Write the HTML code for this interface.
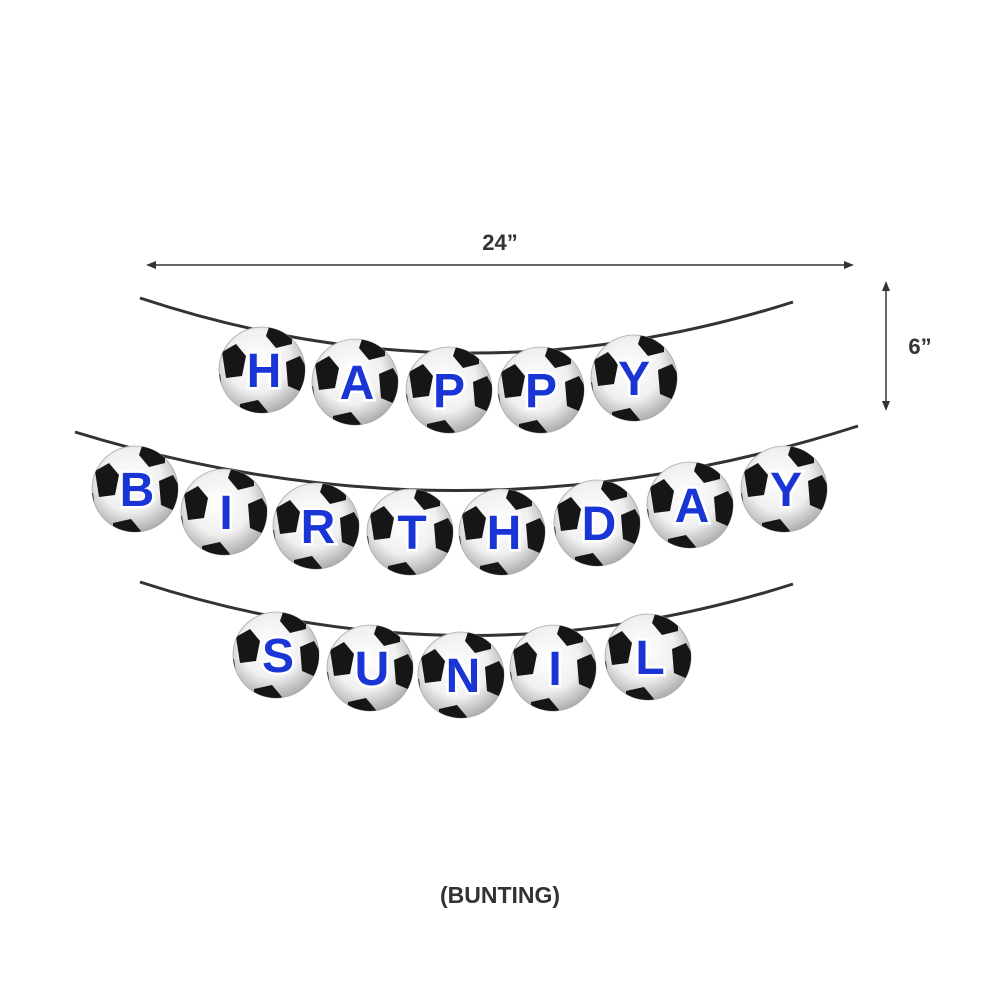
<!DOCTYPE html>
<html><head><style>
html,body{margin:0;padding:0;background:#fff;}
svg{display:block;}
.l{font-family:"Liberation Sans",sans-serif;font-weight:bold;font-size:48px;fill:#1a35d6;stroke:#ffffff;stroke-width:5;paint-order:stroke;text-anchor:middle;}
</style></head><body>
<svg width="1000" height="1000" viewBox="0 0 1000 1000">
<defs>
<radialGradient id="g" cx="45%" cy="40%" r="60%">
<stop offset="0" stop-color="#ffffff"/><stop offset="0.6" stop-color="#f0f0f0"/><stop offset="1" stop-color="#b0b0b0"/>
</radialGradient>
<clipPath id="c"><circle r="43"/></clipPath>
<g id="ball">
<circle r="43" fill="url(#g)" stroke="#aaa" stroke-width="0.8"/>
<g clip-path="url(#c)" fill="#161616">
<polygon points="-40,-18 -26,-26 -16,-14 -20,6 -36,8"/>
<polygon points="8,-46 30,-42 30,-26 14,-22 4,-34"/>
<polygon points="24,-8 38,-14 48,4 40,22 26,16"/>
<polygon points="-22,34 -4,30 6,42 -4,52 -22,48"/>
<polygon points="16,40 30,34 38,44 22,52"/>
<polygon points="-48,6 -42,4 -40,20 -48,24"/>
</g>
</g>
</defs>
<text x="500" y="250" font-family="Liberation Sans,sans-serif" font-weight="bold" font-size="22" fill="#333" text-anchor="middle">24”</text>
<line x1="152" y1="265" x2="848" y2="265" stroke="#333" stroke-width="1.5"/>
<polygon points="146,265 156,261 156,269" fill="#333"/>
<polygon points="854,265 844,261 844,269" fill="#333"/>
<line x1="886" y1="287" x2="886" y2="405" stroke="#333" stroke-width="1.5"/>
<polygon points="886,281 882,291 890,291" fill="#333"/>
<polygon points="886,411 882,401 890,401" fill="#333"/>
<text x="920" y="354" font-family="Liberation Sans,sans-serif" font-weight="bold" font-size="22" fill="#333" text-anchor="middle">6”</text>
<g fill="none" stroke="#333" stroke-width="3">
<path d="M140,298 Q466,406 793,302"/>
<path d="M75,432 Q466,552 858,426"/>
<path d="M140,582 Q466,688 793,584"/>
</g>
<use href="#ball" x="262" y="370"/><text class="l" x="264" y="387">H</text>
<use href="#ball" x="355" y="382"/><text class="l" x="357" y="399">A</text>
<use href="#ball" x="449" y="390"/><text class="l" x="449" y="407">P</text>
<use href="#ball" x="541" y="390"/><text class="l" x="541" y="407">P</text>
<use href="#ball" x="634" y="378"/><text class="l" x="634" y="395">Y</text>

<use href="#ball" x="135" y="489"/><text class="l" x="137" y="506">B</text>
<use href="#ball" x="224" y="512"/><text class="l" x="226" y="529">I</text>
<use href="#ball" x="316" y="526"/><text class="l" x="318" y="543">R</text>
<use href="#ball" x="410" y="532"/><text class="l" x="412" y="549">T</text>
<use href="#ball" x="502" y="532"/><text class="l" x="504" y="549">H</text>
<use href="#ball" x="597" y="523"/><text class="l" x="599" y="540">D</text>
<use href="#ball" x="690" y="505"/><text class="l" x="692" y="522">A</text>
<use href="#ball" x="784" y="489"/><text class="l" x="786" y="506">Y</text>

<use href="#ball" x="276" y="655"/><text class="l" x="278" y="672">S</text>
<use href="#ball" x="370" y="668"/><text class="l" x="372" y="685">U</text>
<use href="#ball" x="461" y="675"/><text class="l" x="463" y="692">N</text>
<use href="#ball" x="553" y="668"/><text class="l" x="555" y="685">I</text>
<use href="#ball" x="648" y="657"/><text class="l" x="650" y="674">L</text>

<text x="500" y="903" font-family="Liberation Sans,sans-serif" font-weight="bold" font-size="23" fill="#333" text-anchor="middle">(BUNTING)</text>
</svg>
</body></html>
